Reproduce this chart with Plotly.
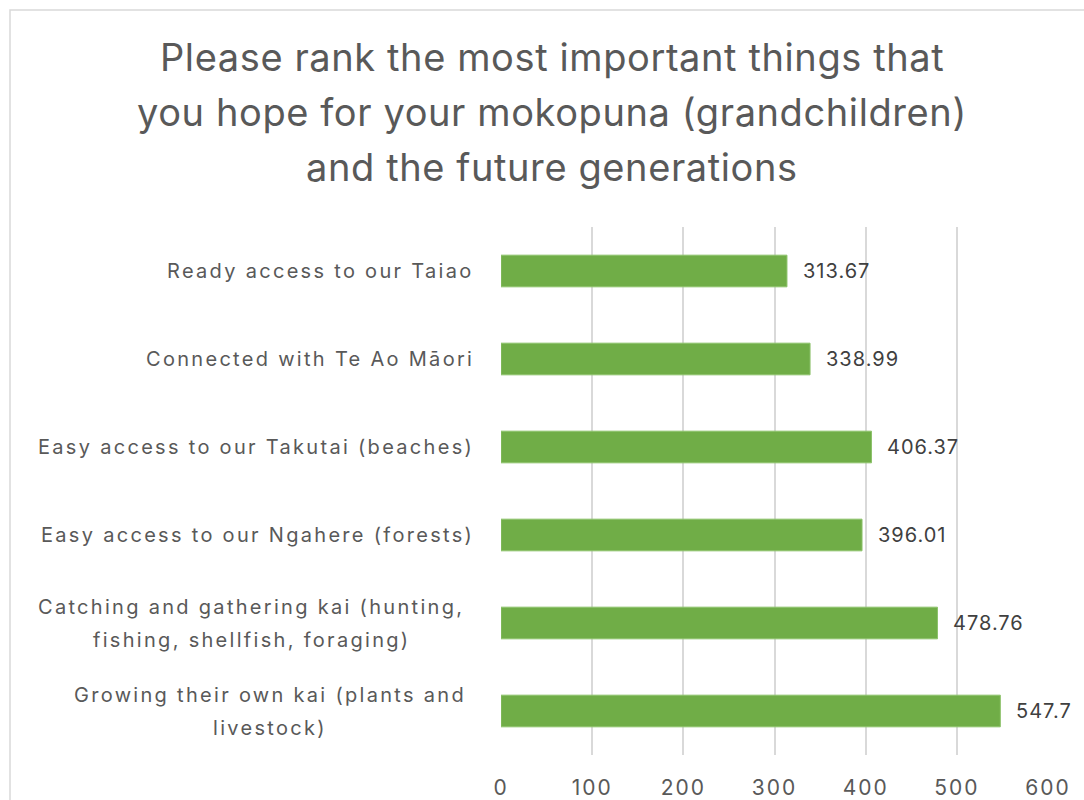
import plotly.graph_objects as go

title_lines = [
    "Please rank the most important things that",
    "you hope for your mokopuna (grandchildren)",
    "and the future generations",
]
categories = [
    "Ready access to our Taiao",
    "Connected with Te Ao Māori",
    "Easy access to our Takutai (beaches)",
    "Easy access to our Ngahere (forests)",
    "Catching and gathering kai (hunting,<br>fishing, shellfish, foraging)",
    "Growing their own kai (plants and<br>livestock)",
]
values = [313.67, 338.99, 406.37, 396.01, 478.76, 547.7]
value_labels = ["313.67", "338.99", "406.37", "396.01", "478.76", "547.7"]
x_ticks = [0, 100, 200, 300, 400, 500, 600]

FONT = "Inter"
GRAY = "#595959"

W, H = 1084, 800
PX0, PX1, PY0, PY1 = 501, 1048, 227, 755  # plot area in pixels
L, R, T, B = PX0, W - PX1, PY0, H - PY1
pw, ph = PX1 - PX0, PY1 - PY0


def px_x(px):
    return (px - PX0) / pw


def px_y(py):
    return (PY1 - py) / ph


def ls(text, sp):
    return f'<span style="letter-spacing:{sp}px">{text}</span>'


fig = go.Figure()
fig.add_trace(go.Bar(
    x=values,
    y=categories,
    orientation="h",
    marker=dict(color="#70AD47", line=dict(color="#8CC26A", width=1)),
    width=0.36,
    hoverinfo="skip",
))

annotations = []
# multi-line label block centres (pixels)
block_center = {4: 251, 5: 270}
for k, cat in enumerate(categories):
    lines = cat.split("<br>")
    n = len(lines)
    for i, ln in enumerate(lines):
        shift = (n - 1) * 16.5 - i * 33
        if n == 1:
            ax, anc = px_x(476), "right"
        else:
            ax, anc = px_x(block_center[k]), "center"
        annotations.append(dict(
            x=ax, xref="paper", y=cat, yref="y",
            text=ls(ln, 2.3), showarrow=False, xanchor=anc,
            yanchor="middle", yshift=shift,
            font=dict(family=FONT, size=20, color=GRAY),
        ))
# data labels
for cat, v, lab in zip(categories, values, value_labels):
    annotations.append(dict(
        x=v, xref="x", y=cat, yref="y", text=ls(lab, 1), showarrow=False,
        xanchor="left", yanchor="middle", xshift=14,
        font=dict(family=FONT, size=20, color="#404040"),
    ))
# title lines
title_y = [57, 112, 167]
for i, t in enumerate(title_lines):
    annotations.append(dict(
        x=px_x(552), xref="paper", y=px_y(title_y[i]), yref="paper",
        text=ls(t, 0.6), showarrow=False, xanchor="center", yanchor="middle",
        font=dict(family=FONT, size=38, color=GRAY),
    ))

fig.update_layout(
    width=W, height=H,
    margin=dict(l=L, r=R, t=T, b=B, pad=0, autoexpand=False),
    paper_bgcolor="white",
    plot_bgcolor="white",
    showlegend=False,
    bargap=0.64,
    xaxis=dict(
        range=[0, 600], tickvals=x_ticks, ticktext=[ls(str(v), 2) for v in x_ticks],
        showgrid=True, gridcolor="#D9D9D9", automargin=False,
        gridwidth=1.5, zeroline=False, showline=False, ticks="",
        tickfont=dict(family=FONT, size=21, color=GRAY), ticklabelstandoff=18,
    ),
    yaxis=dict(
        categoryorder="array", categoryarray=categories, autorange="reversed",
        showticklabels=False, showgrid=False, zeroline=False, showline=False,
        automargin=False,
    ),
    annotations=annotations,
    shapes=[dict(
        type="rect", xref="paper", yref="paper",
        x0=px_x(10), x1=px_x(1300),
        y0=px_y(1000), y1=px_y(10),
        line=dict(color="#D9D9D9", width=1.5), fillcolor="rgba(0,0,0,0)", layer="below",
    )],
)

fig.write_html(
    "out.html",
    config={"displayModeBar": False},
    post_script="document.body.style.margin='0';document.body.style.overflow='hidden';",
)
